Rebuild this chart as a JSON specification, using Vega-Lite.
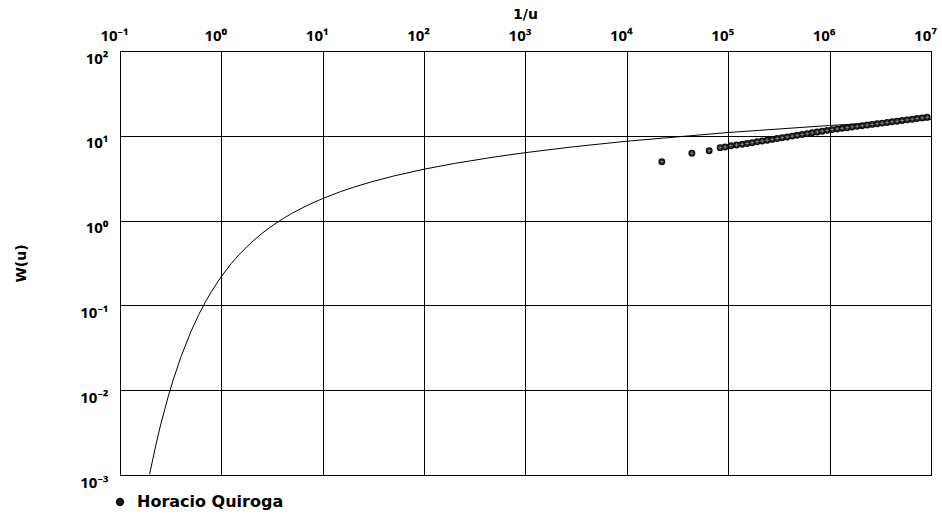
{
  "$schema": "https://vega.github.io/schema/vega-lite/v6.json",
  "autosize": {"type": "none"},
  "width": 811,
  "height": 424,
  "padding": {"left": 120, "top": 51, "right": 11, "bottom": 41},
  "background": "white",
  "config": {
    "view": {"stroke": "black", "strokeWidth": 1},
    "axis": {
      "grid": true,
      "gridColor": "black",
      "gridOpacity": 1,
      "gridWidth": 1,
      "ticks": false,
      "domain": false,
      "labelFont": "Noto Sans",
      "labelFontWeight": "bold",
      "labelFontSize": 15,
      "labelColor": "black",
      "labelOverlap": false,
      "labelFlush": false,
      "titleFont": "DejaVu Sans",
      "titleFontWeight": "bold",
      "titleFontSize": 14,
      "titleColor": "black"
    }
  },
  "datasets": {
    "theis": [
      {"inv_u": 0.1961, "W": 0.00102},
      {"inv_u": 0.2, "W": 0.001148},
      {"inv_u": 0.225, "W": 0.002214},
      {"inv_u": 0.25, "W": 0.003779},
      {"inv_u": 0.3, "W": 0.00856},
      {"inv_u": 0.3333, "W": 0.01305},
      {"inv_u": 0.4, "W": 0.02491},
      {"inv_u": 0.5, "W": 0.0489},
      {"inv_u": 0.6, "W": 0.0784},
      {"inv_u": 0.7, "W": 0.1113},
      {"inv_u": 0.8, "W": 0.1465},
      {"inv_u": 1, "W": 0.2194},
      {"inv_u": 1.25, "W": 0.3106},
      {"inv_u": 1.5, "W": 0.399},
      {"inv_u": 2, "W": 0.5598},
      {"inv_u": 2.5, "W": 0.7024},
      {"inv_u": 3, "W": 0.8292},
      {"inv_u": 4, "W": 1.0443},
      {"inv_u": 5, "W": 1.2227},
      {"inv_u": 7, "W": 1.5066},
      {"inv_u": 10, "W": 1.8229},
      {"inv_u": 15, "W": 2.1965},
      {"inv_u": 20, "W": 2.4679},
      {"inv_u": 30, "W": 2.857},
      {"inv_u": 50, "W": 3.3547},
      {"inv_u": 100, "W": 4.0379},
      {"inv_u": 200, "W": 4.7261},
      {"inv_u": 500, "W": 5.6394},
      {"inv_u": 1000, "W": 6.3315},
      {"inv_u": 3000, "W": 7.4295},
      {"inv_u": 10000, "W": 8.6332},
      {"inv_u": 100000, "W": 10.9357},
      {"inv_u": 1000000, "W": 13.2383},
      {"inv_u": 10000000, "W": 15.5409}
    ],
    "pozo": [
      {"pozo": "Horacio Quiroga", "inv_u": 22130, "W": 4.95},
      {"pozo": "Horacio Quiroga", "inv_u": 43750, "W": 6.22},
      {"pozo": "Horacio Quiroga", "inv_u": 64860, "W": 6.67},
      {"pozo": "Horacio Quiroga", "inv_u": 83200, "W": 7.25},
      {"pozo": "Horacio Quiroga", "inv_u": 93150, "W": 7.38},
      {"pozo": "Horacio Quiroga", "inv_u": 106100, "W": 7.64},
      {"pozo": "Horacio Quiroga", "inv_u": 120600, "W": 7.79},
      {"pozo": "Horacio Quiroga", "inv_u": 137100, "W": 7.94},
      {"pozo": "Horacio Quiroga", "inv_u": 153500, "W": 8.12},
      {"pozo": "Horacio Quiroga", "inv_u": 172000, "W": 8.3},
      {"pozo": "Horacio Quiroga", "inv_u": 192800, "W": 8.49},
      {"pozo": "Horacio Quiroga", "inv_u": 216000, "W": 8.68},
      {"pozo": "Horacio Quiroga", "inv_u": 242000, "W": 8.88},
      {"pozo": "Horacio Quiroga", "inv_u": 271000, "W": 9.07},
      {"pozo": "Horacio Quiroga", "inv_u": 303700, "W": 9.28},
      {"pozo": "Horacio Quiroga", "inv_u": 340200, "W": 9.49},
      {"pozo": "Horacio Quiroga", "inv_u": 381100, "W": 9.7},
      {"pozo": "Horacio Quiroga", "inv_u": 426900, "W": 9.92},
      {"pozo": "Horacio Quiroga", "inv_u": 478300, "W": 10.14},
      {"pozo": "Horacio Quiroga", "inv_u": 535800, "W": 10.37},
      {"pozo": "Horacio Quiroga", "inv_u": 600200, "W": 10.6},
      {"pozo": "Horacio Quiroga", "inv_u": 672400, "W": 10.84},
      {"pozo": "Horacio Quiroga", "inv_u": 753200, "W": 11.09},
      {"pozo": "Horacio Quiroga", "inv_u": 843800, "W": 11.34},
      {"pozo": "Horacio Quiroga", "inv_u": 945300, "W": 11.59},
      {"pozo": "Horacio Quiroga", "inv_u": 1059000, "W": 11.83},
      {"pozo": "Horacio Quiroga", "inv_u": 1186000, "W": 12.04},
      {"pozo": "Horacio Quiroga", "inv_u": 1329000, "W": 12.26},
      {"pozo": "Horacio Quiroga", "inv_u": 1489000, "W": 12.47},
      {"pozo": "Horacio Quiroga", "inv_u": 1668000, "W": 12.7},
      {"pozo": "Horacio Quiroga", "inv_u": 1868000, "W": 12.92},
      {"pozo": "Horacio Quiroga", "inv_u": 2093000, "W": 13.15},
      {"pozo": "Horacio Quiroga", "inv_u": 2345000, "W": 13.39},
      {"pozo": "Horacio Quiroga", "inv_u": 2627000, "W": 13.63},
      {"pozo": "Horacio Quiroga", "inv_u": 2943000, "W": 13.87},
      {"pozo": "Horacio Quiroga", "inv_u": 3297000, "W": 14.11},
      {"pozo": "Horacio Quiroga", "inv_u": 3693000, "W": 14.37},
      {"pozo": "Horacio Quiroga", "inv_u": 4138000, "W": 14.62},
      {"pozo": "Horacio Quiroga", "inv_u": 4635000, "W": 14.88},
      {"pozo": "Horacio Quiroga", "inv_u": 5193000, "W": 15.15},
      {"pozo": "Horacio Quiroga", "inv_u": 5818000, "W": 15.42},
      {"pozo": "Horacio Quiroga", "inv_u": 6517000, "W": 15.69},
      {"pozo": "Horacio Quiroga", "inv_u": 7301000, "W": 15.97},
      {"pozo": "Horacio Quiroga", "inv_u": 8180000, "W": 16.26},
      {"pozo": "Horacio Quiroga", "inv_u": 9164000, "W": 16.55}
    ]
  },
  "layer": [
    {
      "data": {"name": "theis"},
      "mark": {"type": "line", "color": "black", "strokeWidth": 1, "clip": true},
      "encoding": {
        "x": {
          "field": "inv_u",
          "type": "quantitative",
          "scale": {"type": "log", "domain": [0.1, 10000000], "nice": false},
          "axis": {
            "orient": "top",
            "title": "1/u",
            "titleX": 405,
            "titleY": -33,
            "titleBaseline": "alphabetic",
            "values": [0.1, 1, 10, 100, 1000, 10000, 100000, 1000000, 10000000],
            "labelExpr": "['10⁻¹','10⁰','10¹','10²','10³','10⁴','10⁵','10⁶','10⁷'][round(log(datum.value)/LN10)+1]",
            "labelPadding": 8,
            "labelOffset": -6
          }
        },
        "y": {
          "field": "W",
          "type": "quantitative",
          "scale": {"type": "log", "domain": [0.001, 100], "nice": false},
          "axis": {
            "title": "W(u)",
            "titleX": -99,
            "titleY": 212,
            "titleAngle": -90,
            "titleAlign": "center",
            "titleBaseline": "middle",
            "values": [0.001, 0.01, 0.1, 1, 10, 100],
            "labelExpr": "['10⁻³','10⁻²','10⁻¹','10⁰','10¹','10²'][round(log(datum.value)/LN10)+3]",
            "labelPadding": 12,
            "labelBaseline": "top",
            "labelOffset": 0
          }
        }
      }
    },
    {
      "data": {"name": "pozo"},
      "mark": {"type": "point", "shape": "circle", "filled": true, "size": 48, "opacity": 1},
      "encoding": {
        "x": {"field": "inv_u", "type": "quantitative"},
        "y": {"field": "W", "type": "quantitative"},
        "color": {
          "field": "pozo",
          "type": "nominal",
          "scale": {"range": ["#111111"]},
          "legend": {
            "title": null,
            "orient": "none",
            "legendX": -8,
            "legendY": 443,
            "padding": 0,
            "symbolSize": 70,
            "symbolType": "circle",
            "symbolStrokeWidth": 0,
            "labelFont": "DejaVu Sans",
            "labelFontWeight": "bold",
            "labelFontSize": 16,
            "labelColor": "black",
            "labelOffset": 9
          }
        }
      }
    },
    {
      "data": {"name": "pozo"},
      "mark": {
        "type": "point",
        "shape": "M-0.6,0L0.6,0M0,-0.6L0,0.6",
        "filled": false,
        "size": 44,
        "color": "white",
        "strokeWidth": 0.6,
        "opacity": 0.7
      },
      "encoding": {
        "x": {"field": "inv_u", "type": "quantitative"},
        "y": {"field": "W", "type": "quantitative"}
      }
    }
  ]
}
